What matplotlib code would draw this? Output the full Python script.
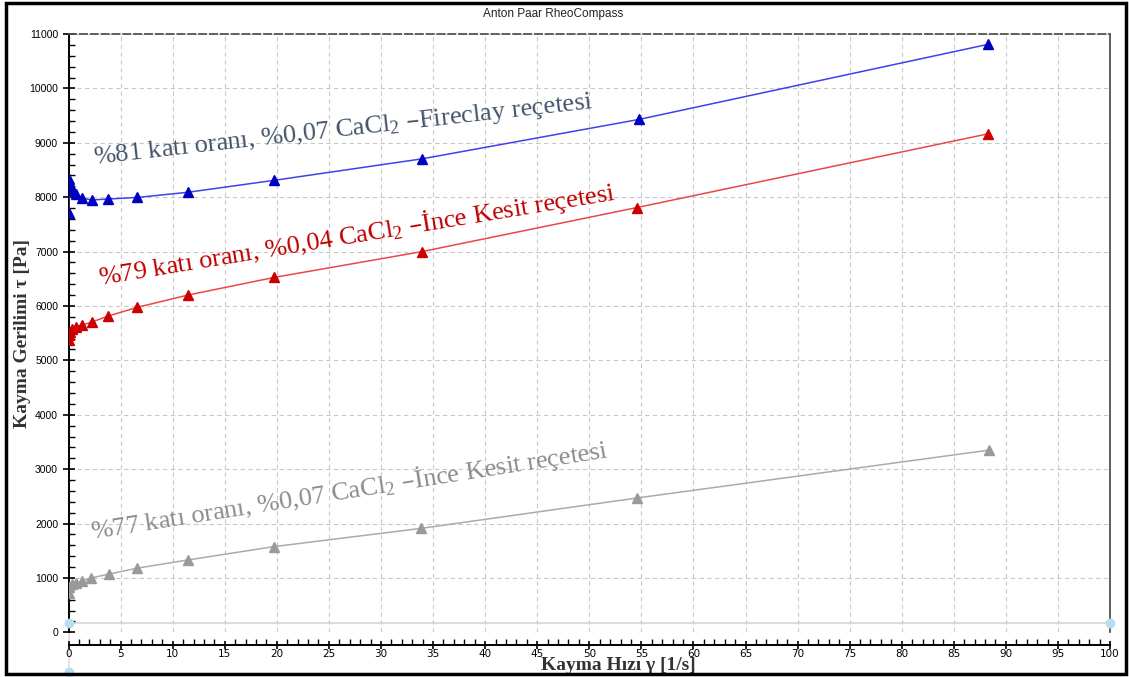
import numpy as np
import matplotlib
matplotlib.use("Agg")
import matplotlib.pyplot as plt
from matplotlib.patches import Rectangle
from matplotlib.ticker import MultipleLocator

# shear rate [1/s] and shear stress [Pa]
x_81 = [0.01, 0.03, 0.14, 0.31, 0.72, 1.27, 2.26, 3.77, 6.62, 11.46, 19.76, 33.96, 54.8, 88.3]
y_81 = [7710, 8340, 8250, 8130, 8050, 7980, 7950, 7965, 7995, 8090, 8310, 8705, 9430, 10810]

x_79 = [0.02, 0.05, 0.14, 0.37, 0.75, 1.33, 2.23, 3.83, 6.6, 11.46, 19.76, 33.96, 54.6, 88.3]
y_79 = [5370, 5465, 5525, 5575, 5620, 5650, 5705, 5815, 5975, 6200, 6525, 7000, 7810, 9165]

x_77 = [0.02, 0.06, 0.3, 0.72, 1.27, 2.2, 3.87, 6.6, 11.46, 19.7, 33.8, 54.6, 88.4]
y_77 = [715, 840, 890, 910, 935, 1000, 1070, 1180, 1330, 1575, 1910, 2470, 3350]

lbl_81 = "%81 katı oranı, %0,07 CaCl$\\mathregular{_2}$ \u2013Fireclay reçetesi"
lbl_79 = "%79 katı oranı, %0,04 CaCl$\\mathregular{_2}$ \u2013İnce Kesit reçetesi"
lbl_77 = "%77 katı oranı, %0,07 CaCl$\\mathregular{_2}$ \u2013İnce Kesit reçetesi"

handle_y = 170  # level of the software's range cursor line

serif = "Liberation Serif"
sans = "Liberation Sans"

fig = plt.figure(figsize=(11.29, 6.77), dpi=100)
ax = fig.add_axes([0.0607, 0.066, 0.9225, 0.8838])

ax.plot(x_81, y_81, color="#4040ee", lw=1.1, marker="^", ms=7,
        mfc="#0000c0", mec="#0000c0", zorder=3)
ax.plot(x_79, y_79, color="#e84848", lw=1.1, marker="^", ms=7,
        mfc="#cc0000", mec="#cc0000", zorder=3)
ax.plot(x_77, y_77, color="#ababab", lw=1.1, marker="^", ms=7,
        mfc="#9a9a9a", mec="#9a9a9a", zorder=3)

ax.set_xlim(0, 100)
ax.set_ylim(0, 11000)
ax.xaxis.set_major_locator(MultipleLocator(5))
ax.xaxis.set_minor_locator(MultipleLocator(1))
ax.yaxis.set_major_locator(MultipleLocator(1000))
ax.yaxis.set_minor_locator(MultipleLocator(200))
ax.grid(which="major", color="#c8c8c8", linestyle=(0, (4, 3)), lw=0.8)

ax.tick_params(which="major", direction="inout", length=8, width=1.2, labelsize=7.5)
ax.tick_params(which="minor", direction="in", length=4, width=1.0)
ax.tick_params(axis="x", which="major", length=6, pad=0)
for t in ax.get_xticklabels() + ax.get_yticklabels():
    t.set_fontfamily(sans)

ax.spines["left"].set_linewidth(1.4)
ax.spines["bottom"].set_linewidth(1.4)
ax.spines["bottom"].set_position(("outward", 9))
ax.spines["top"].set_linestyle((0, (4, 2)))
ax.spines["top"].set_color("#555555")
ax.spines["top"].set_linewidth(1.3)
ax.spines["right"].set_color("#444444")
ax.spines["right"].set_linewidth(1.2)

# range cursor of the software
ax.plot([0, 100], [handle_y, handle_y], color="#dddddd", lw=1.5, zorder=1, clip_on=False)
ax.plot([0, 0], [handle_y, -730], color="#dddddd", lw=1.2, zorder=1, clip_on=False)
ax.plot([0, 100, 0], [handle_y, handle_y, -730], "o", color="#b8dcf0", ms=6,
        zorder=4, clip_on=False)

ax.set_xlabel("Kayma Hızı γ [1/s]", fontfamily=serif, fontsize=14, fontweight="bold",
              color="#333333")
ax.xaxis.set_label_coords(0.528, -0.042)
ax.set_ylabel("Kayma Gerilimi τ [Pa]", fontfamily=serif, fontsize=14, fontweight="bold",
              color="#333333")
ax.yaxis.set_label_coords(-0.036, 0.5)

ax.text(2.45, 8610, lbl_81, fontfamily=serif, fontsize=19, color="#44546a",
        rotation=6.4, rotation_mode="anchor", ha="left", va="baseline")
ax.text(2.96, 6384, lbl_79, fontfamily=serif, fontsize=19, color="#c00000",
        rotation=9.4, rotation_mode="anchor", ha="left", va="baseline")
ax.text(2.2, 1720, lbl_77, fontfamily=serif, fontsize=19, color="#8c8c8c",
        rotation=9.0, rotation_mode="anchor", ha="left", va="baseline")

fig.text(0.49, 0.979, "Anton Paar RheoCompass", fontfamily=sans, fontsize=8.5,
         ha="center", va="center", color="#222222")

fig.patches.append(Rectangle((0.005, 0.005), 0.992, 0.99, transform=fig.transFigure,
                             fill=False, edgecolor="black", lw=2.5))

fig.savefig("out.png", dpi=100)
